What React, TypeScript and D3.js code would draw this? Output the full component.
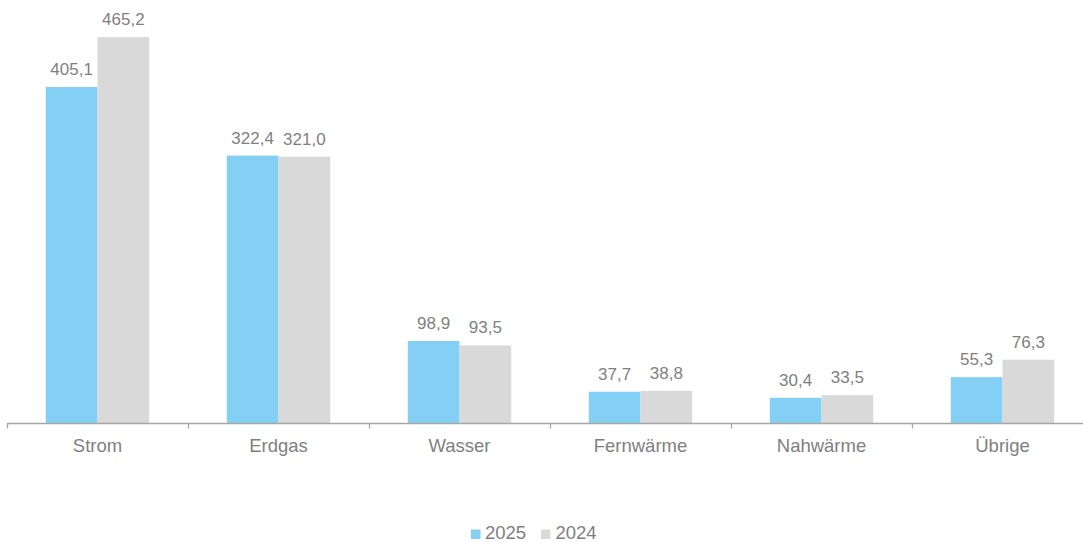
import React from "react";
import * as d3 from "d3";

const categories = ["Strom", "Erdgas", "Wasser", "Fernwärme", "Nahwärme", "Übrige"];
const series = ["2025", "2024"];
const values2025 = [405.1, 322.4, 98.9, 37.7, 30.4, 55.3];
const values2024 = [465.2, 321.0, 93.5, 38.8, 33.5, 76.3];
const colors = ["#84D0F5", "#D9D9D9"];

const W = 1083;
const H = 542;
const left = 7;
const band = 181;
const baseY = 423;

export default function App() {
  const x = d3.scaleBand<string>().domain(categories).range([left, left + band * categories.length]).paddingInner(0).paddingOuter(0);
  const xs = d3.scaleBand<string>().domain(series).range([0, band]).paddingInner(0).paddingOuter(0.75);
  const y = d3.scaleLinear().domain([0, 510]).range([baseY, 0]);
  const data = [values2025, values2024];
  const fmt = (v: number) => v.toFixed(1).replace(".", ",");
  const font = "'Liberation Sans', Arial, sans-serif";
  const textColor = "#7F7F7F";
  return (
    <svg width={W} height={H} style={{ position: "absolute", left: 0, top: 0 }} fontFamily={font}>
      {categories.map((c, i) => (
        <g key={c}>
          {series.map((s, j) => {
            const v = data[j][i];
            const bx = (x(c) as number) + (xs(s) as number);
            const bw = xs.bandwidth();
            return (
              <g key={s}>
                <rect x={bx} y={y(v)} width={bw} height={baseY - y(v)} fill={colors[j]} />
                <text x={bx + bw / 2} y={y(v) - 12} textAnchor="middle" fontSize={17} fill={textColor}>
                  {fmt(v)}
                </text>
              </g>
            );
          })}
          <text x={(x(c) as number) + band / 2} y={452} textAnchor="middle" fontSize={18.5} fill={textColor}>
            {c}
          </text>
        </g>
      ))}
      <line x1={left} x2={W} y1={baseY + 0.5} y2={baseY + 0.5} stroke="#A6A6A6" strokeWidth={1.3} />
      {d3.range(categories.length).map((i) => (
        <line key={i} x1={left + band * i + 0.5} x2={left + band * i + 0.5} y1={baseY} y2={baseY + 5.5} stroke="#A6A6A6" strokeWidth={1.3} />
      ))}
      <g>
        <rect x={471} y={529.5} width={9.5} height={9.5} fill={colors[0]} />
        <text x={485} y={539} fontSize={18.5} fill={textColor}>{series[0]}</text>
        <rect x={541} y={529.5} width={9.5} height={9.5} fill={colors[1]} />
        <text x={555.5} y={539} fontSize={18.5} fill={textColor}>{series[1]}</text>
      </g>
    </svg>
  );
}
